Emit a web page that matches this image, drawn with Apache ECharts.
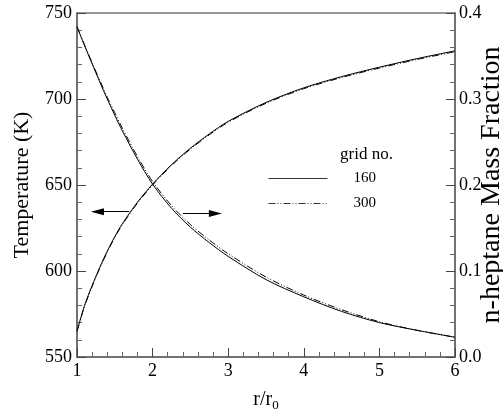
<!DOCTYPE html>
<html>
<head>
<meta charset="utf-8">
<script src="https://cdn.jsdelivr.net/npm/echarts@6/dist/echarts.min.js"></script>
<style>
  html, body { margin: 0; padding: 0; background: #fff; }
  #box { width: 503px; height: 410px; }
</style>
</head>
<body>
<div id="box"></div>
<script>
// r/r0 positions where values were read
let rVals = [1, 1.1, 1.2, 1.3, 1.4, 1.5, 1.6, 1.8, 2, 2.25, 2.5, 2.75, 3, 3.5, 4, 4.5, 5, 5.5, 6];

// temperature (K), left axis
let temp160 = [565, 580, 591.5, 602, 611.5, 620, 627.5, 640, 650.5, 661.8, 671.4, 679.7, 687, 698, 706.5, 713, 718.5, 723.5, 728];
let temp300 = [565, 579.5, 591, 601.5, 611, 619.5, 627, 639.5, 650, 661.3, 670.9, 679.2, 686.5, 697.5, 706, 712.5, 718, 723, 727.5];

// n-heptane mass fraction, right axis
let frac160 = [0.384, 0.362, 0.341, 0.320, 0.300, 0.281, 0.263, 0.230, 0.201, 0.173, 0.151, 0.133, 0.117, 0.090, 0.070, 0.053, 0.040, 0.031, 0.023];
let frac300 = [0.384, 0.363, 0.342, 0.322, 0.302, 0.284, 0.266, 0.233, 0.204, 0.176, 0.154, 0.136, 0.120, 0.093, 0.072, 0.055, 0.041, 0.031, 0.023];

let gridNames = ['160', '300'];

// arrows pointing to the axis of each curve: [fromR, toR, level]
let leftArrow = [1.69, 1.27, 634.5];
let rightArrow = [2.40, 2.83, 0.167];

let font = 'Liberation Serif';
let dashDotDot = [7, 2, 1, 2, 1, 2];

function pairs(ys) {
    return rVals.map(function (r, i) { return [r, ys[i]]; });
}

function arrowLine(a) {
    return {
        silent: true,
        symbol: ['none', 'triangle'],
        symbolSize: [7, 13],
        label: {show: false},
        lineStyle: {color: '#000', width: 1, type: 'solid'},
        data: [[{coord: [a[0], a[2]]}, {coord: [a[1], a[2]]}]]
    };
}

let chart = echarts.init(document.getElementById('box'));

let axisLine = {show: true, lineStyle: {color: '#666', width: 1.5}};

let option = {
    backgroundColor: '#fff',
    animation: false,
    textStyle: {fontFamily: font},
    grid: {
        left: 77, right: 48, top: 13, bottom: 53,
        outerBoundsMode: 'none', containLabel: false,
        show: true, borderColor: '#777', borderWidth: 1.5
    },
    title: {
        text: 'grid no.',
        left: 335, top: 141,
        textStyle: {fontFamily: font, fontSize: 17, fontWeight: 'normal', color: '#000'}
    },
    legend: {
        data: gridNames,
        orient: 'vertical',
        left: 263, top: 166,
        itemWidth: 59, itemHeight: 14, itemGap: 10,
        itemStyle: {color: 'rgba(0,0,0,0)', borderColor: 'rgba(0,0,0,0)', borderWidth: 0},
        lineStyle: {width: 1, color: '#333'},
        textStyle: {fontFamily: font, fontSize: 15, lineHeight: 14, color: '#000', padding: [0, 0, 0, 21]},
        selectedMode: false
    },
    xAxis: {
        type: 'value', min: 1, max: 6, interval: 1,
        name: '{a|r/r}{b|0}', nameLocation: 'middle', nameGap: 30,
        nameTextStyle: {
            rich: {
                a: {fontFamily: font, fontSize: 20, color: '#000'},
                b: {fontFamily: font, fontSize: 13, color: '#000', verticalAlign: 'bottom', padding: [12, 0, 0, 0]}
            }
        },
        axisLine: axisLine,
        axisTick: {inside: true, length: 9, lineStyle: {color: '#444'}},
        minorTick: {show: true, splitNumber: 5, length: 5, lineStyle: {color: '#666'}},
        axisLabel: {fontFamily: font, fontSize: 18, color: '#000', margin: 5},
        splitLine: {show: false}
    },
    yAxis: [{
        type: 'value', min: 550, max: 750, interval: 50,
        name: 'Temperature (K)', nameLocation: 'middle', nameGap: 44, nameRotate: 90,
        nameMoveOverlap: false,
        nameTextStyle: {fontFamily: font, fontSize: 22, color: '#000'},
        axisLine: axisLine,
        axisTick: {inside: true, length: 9, lineStyle: {color: '#444'}},
        minorTick: {show: true, splitNumber: 5, length: 5, lineStyle: {color: '#666'}},
        axisLabel: {fontFamily: font, fontSize: 18, color: '#000', margin: 5},
        splitLine: {show: false}
    }, {
        type: 'value', min: 0, max: 0.4, interval: 0.1, position: 'right',
        name: 'n-heptane Mass Fraction', nameLocation: 'middle', nameGap: 23, nameRotate: 90,
        nameMoveOverlap: false,
        nameTextStyle: {fontFamily: font, fontSize: 28, color: '#000'},
        axisLine: axisLine,
        axisTick: {inside: true, length: 9, lineStyle: {color: '#444'}},
        minorTick: {show: true, splitNumber: 5, length: 5, lineStyle: {color: '#666'}},
        axisLabel: {
            fontFamily: font, fontSize: 18, color: '#000', margin: 4,
            formatter: function (v) { return v.toFixed(1); }
        },
        splitLine: {show: false}
    }],
    series: [{
        name: gridNames[0], type: 'line', yAxisIndex: 0, smooth: 0.3,
        showSymbol: false, symbol: 'none',
        lineStyle: {color: '#000', width: 1, type: 'solid'},
        itemStyle: {color: '#000'},
        data: pairs(temp160),
        markLine: arrowLine(leftArrow)
    }, {
        name: gridNames[1], type: 'line', yAxisIndex: 0, smooth: 0.3,
        showSymbol: false, symbol: 'none',
        lineStyle: {color: '#000', width: 1, type: dashDotDot},
        itemStyle: {color: '#000'},
        data: pairs(temp300)
    }, {
        name: gridNames[0], type: 'line', yAxisIndex: 1, smooth: 0.3,
        showSymbol: false, symbol: 'none',
        lineStyle: {color: '#000', width: 1, type: 'solid'},
        itemStyle: {color: '#000'},
        data: pairs(frac160),
        markLine: arrowLine(rightArrow)
    }, {
        name: gridNames[1], type: 'line', yAxisIndex: 1, smooth: 0.3,
        showSymbol: false, symbol: 'none',
        lineStyle: {color: '#000', width: 1, type: dashDotDot},
        itemStyle: {color: '#000'},
        data: pairs(frac300)
    }]
};

chart.setOption(option);
</script>
</body>
</html>
